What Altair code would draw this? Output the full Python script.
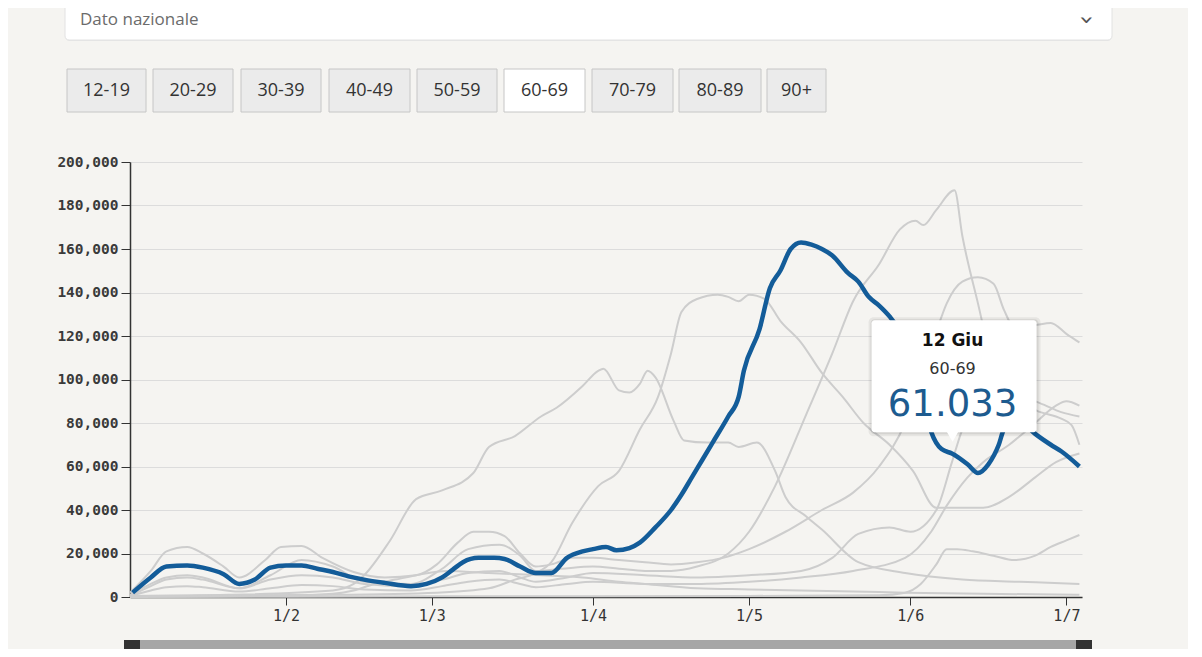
import altair as alt
import pandas as pd

START = pd.Timestamp("2021-01-01")

# Day offsets from 1 Jan 2021, values in thousands of doses per day
d_1219 = [1, 60, 120, 145, 150, 153, 156, 158, 160, 163, 167, 171, 175, 178, 181, 183.5]
v_1219 = [0, 0.3, 0.5, 0.8, 2, 6, 15, 22, 22, 21, 19, 17, 19, 23, 26, 28.5]

d_2029 = [1, 5, 8, 12, 15, 22, 28, 34, 40, 46, 55, 61, 66, 72, 76, 79, 85, 90, 100, 110,
          120, 130, 140, 150, 155, 158, 162, 165, 170, 175, 179, 181, 183.5]
v_2029 = [0.5, 3, 4.5, 5, 4.5, 2.5, 4, 5.5, 5, 3.5, 3, 5, 7, 8, 6, 4.5, 6, 7, 6, 6,
          7, 9, 12, 18, 30, 42, 55, 62, 70, 80, 88, 90, 88]

d_3039 = [1, 5, 8, 12, 15, 22, 28, 34, 40, 46, 55, 61, 66, 72, 76, 79, 85, 90, 100, 110,
          120, 130, 136, 141, 147, 151, 156, 159, 161, 164, 168, 172, 176, 180, 183.5]
v_3039 = [0.5, 5, 8, 9, 8, 4, 8, 10, 9, 6, 5, 8, 11, 12, 9, 7, 9, 11, 10, 9,
          10, 12, 18, 29, 32, 30, 40, 62, 77, 86, 90, 92, 89, 85, 83]

d_4049 = [1, 5, 8, 12, 15, 22, 28, 34, 40, 46, 55, 61, 66, 72, 76, 79, 84, 90, 95, 100,
          105, 110, 116, 120, 125, 131, 136, 140, 145, 149, 152, 153.5, 156, 159.5, 161, 164, 167, 170, 172, 176,
          180, 182, 183.5]
v_4049 = [1, 6, 9, 10, 9, 4, 10, 17, 14, 7, 6, 13, 22, 24, 19, 12, 13, 14, 13, 12,
          12, 14, 20, 30, 51, 84, 112, 136, 153, 169, 173, 171, 178, 187, 166, 135, 105, 90, 89, 85,
          82, 79, 70]

d_5059 = [1, 5, 8, 12, 15, 19, 22, 27, 30, 34, 38, 44, 50, 56, 60, 64, 67, 70, 73, 76,
          79, 82, 86, 90, 95, 100, 105, 110, 115, 120, 127, 134, 140, 145, 150, 153, 156, 158, 161, 164,
          167, 169, 171, 175, 178, 181, 183.5]
v_5059 = [2, 12, 21, 23, 20, 14, 9, 17, 23, 23.5, 18, 11.5, 9, 10, 15, 25, 30, 30, 28, 20,
          14, 15, 18, 18, 17, 16, 15, 16, 18, 22, 30, 40, 48, 60, 80, 100, 122, 135, 145, 147,
          144, 132, 124, 125, 126, 121, 117]

d_6069 = [1.5, 5, 8, 12, 15, 19, 22, 25, 28, 31, 34, 37, 40, 43, 46, 50, 55, 58, 61, 63,
          65, 68, 71, 73, 76, 79, 82, 85, 88, 90, 92.5, 94.5, 97, 99, 102, 105, 107, 109, 111, 113,
          116, 118, 119, 122, 124, 126, 128, 130, 132, 134, 136, 139, 141, 143, 145, 147, 149, 151, 153, 155,
          157, 159, 162, 164, 166, 168, 169, 171, 173, 175, 178, 180, 183.5]
v_6069 = [2, 9, 14, 14.5, 13.5, 10.5, 6, 8, 13.5, 14.5, 14.5, 13, 11.5, 9.5, 8, 6.5, 5, 6, 9, 12.5,
          16, 18, 18, 17.5, 14, 11, 11, 18, 21, 22, 23, 21.5, 22.5, 25, 32, 40, 47, 55, 63, 71,
          83, 92, 104, 123, 142, 150, 160, 163, 162, 160, 157, 149, 145, 138, 134, 129, 122, 110, 95, 76,
          68, 66, 61.033, 57, 61, 70, 77, 80, 79, 75, 70, 67, 60]

d_7079 = [1, 40, 60, 70, 75, 79, 82, 86, 91, 95, 99, 102.5, 105, 107, 110, 114, 116, 118, 120, 123,
          126, 130, 134, 138, 142, 147, 151.5, 156, 160, 165, 170, 175, 179, 183.5]
v_7079 = [0.5, 1, 2, 4, 8, 11, 16, 34, 51, 58, 77, 92, 112, 131, 137, 139, 138, 136, 139, 137,
          127, 117, 103, 92, 80, 70, 58, 41, 41, 41, 46, 55, 62, 66]

d_8089 = [1, 20, 40, 44, 46, 51, 56, 61, 67, 70, 75, 80, 83, 88, 91, 92, 95, 97, 99, 100.5,
          102, 105.5, 107.5, 112, 116, 118, 121.5, 125, 127, 131, 134, 141, 150, 161, 172, 183.5]
v_8089 = [0.5, 1, 3, 6, 10, 26, 45, 49, 57, 69, 74, 83, 87, 97, 104, 105, 95, 94, 98, 104,
          101, 81, 72, 71, 71, 69, 71, 58, 46, 37, 31, 16, 11, 8, 7, 6]

d_90 = [1, 30, 40, 44, 48, 52, 56, 62, 70, 80, 88, 95, 100, 110, 120, 130, 140, 150, 165, 183.5]
v_90 = [0.2, 0.5, 1.5, 3, 6, 8, 10, 12, 11, 10, 9, 7, 6, 4, 3.5, 3, 2.5, 2, 1.5, 1]

groups = ["12-19", "20-29", "30-39", "40-49", "50-59", "60-69", "70-79", "80-89", "90+"]
series = {
    "12-19": (d_1219, v_1219), "20-29": (d_2029, v_2029), "30-39": (d_3039, v_3039),
    "40-49": (d_4049, v_4049), "50-59": (d_5059, v_5059), "60-69": (d_6069, v_6069),
    "70-79": (d_7079, v_7079), "80-89": (d_8089, v_8089), "90+": (d_90, v_90),
}
selected = "60-69"
tip_day = "2021-06-12T00:00:00Z"
tip_value = 61033
tip_title = "12 Giu"
tip_value_text = "61.033"
dropdown_text = "Dato nazionale"
month_ticks = [2, 3, 4, 5, 6, 7]
y_ticks = [0, 20000, 40000, 60000, 80000, 100000, 120000, 140000, 160000, 180000, 200000]


def frame(name, days, vals):
    return pd.DataFrame({
        "date": [(START + pd.Timedelta(days=d)).strftime("%Y-%m-%dT%H:%M:%SZ") for d in days],
        "value": [v * 1000 for v in vals],
        "group": name,
    })


gray_df = pd.concat([frame(g, *series[g]) for g in groups if g != selected], ignore_index=True)
blue_df = frame(selected, *series[selected])

AXIS_FONT = "DejaVu Sans Mono"
x_enc = alt.X(
    "date:T",
    scale=alt.Scale(type="utc",
                    domain=[alt.DateTime(year=2021, month=1, date=2, utc=True),
                            alt.DateTime(year=2021, month=7, date=4, utc=True)]),
    axis=alt.Axis(values=[alt.DateTime(year=2021, month=m, date=1, utc=True) for m in month_ticks],
                  labelExpr="utcFormat(datum.value, '%-d/%-m')",
                  title=None, grid=False, domainColor="#333", domainWidth=1.5,
                  tickColor="#333", tickSize=8, labelFont=AXIS_FONT, labelFontSize=15,
                  labelColor="#333", labelPadding=3),
)
y_enc = alt.Y(
    "value:Q",
    scale=alt.Scale(domain=[0, 200000], nice=False),
    axis=alt.Axis(values=y_ticks, labelExpr="format(datum.value, ',.0f')", title=None,
                  grid=True, gridColor="#dcdcdc", gridWidth=1,
                  domainColor="#333", domainWidth=1.5, tickColor="#333", tickSize=9,
                  labelFont=AXIS_FONT, labelFontSize=14.5, labelFontWeight="bold",
                  labelColor="#3a3a3a", labelPadding=3),
)

gray = alt.Chart(gray_df).mark_line(color="#cdcdcd", strokeWidth=2, interpolate="monotone").encode(
    x=x_enc, y=y_enc, detail="group:N")
blue = alt.Chart(blue_df).mark_line(color="#135c99", strokeWidth=4.5, interpolate="monotone").encode(
    x=x_enc, y=y_enc)

one = pd.DataFrame({"k": [0]})


def box(x, x2, y, y2, **kw):
    return alt.Chart(one).mark_rect(**kw).encode(
        x=alt.value(x), x2=alt.value(x2), y=alt.value(y), y2=alt.value(y2))


def label(text, x, y, **kw):
    return alt.Chart(one).mark_text(text=text, **kw).encode(x=alt.value(x), y=alt.value(y))


deco = []
# dropdown
deco.append(box(-65, 982, -190, -121, fill="#e6e6e6", cornerRadius=5))
deco.append(box(-65, 982, -190, -122, fill="white", stroke="#e2e2e2", strokeWidth=1, cornerRadius=4))
deco.append(label(dropdown_text, -50, -142, align="left", baseline="middle",
                  font="Open Sans", fontSize=17, color="#6b6b6b"))
deco.append(label("›", 956, -142, align="center", baseline="middle", angle=90,
                  font="DejaVu Sans", fontSize=24, color="#555"))

# age buttons
button_x = [(-63, 16), (23, 103), (111, 191), (199, 280), (287, 367),
            (374, 455), (462, 543), (549, 631), (637, 696)]
for g, (bx0, bx1) in zip(groups, button_x):
    fill = "#ffffff" if g == selected else "#ebebeb"
    deco.append(box(bx0, bx1, -93, -50, fill=fill, stroke="#c6c6c6", strokeWidth=1))
    deco.append(label(g, (bx0 + bx1) / 2, -71, align="center", baseline="middle",
                      font="Open Sans", fontSize=18, color="#333"))

# bottom scroll bar
deco.append(box(-6, 962, 478, 500, fill="#333333"))
deco.append(box(10, 946, 478, 500, fill="#a6a6a6"))

# tooltip anchored to the data point
tip_df = pd.DataFrame({"date": [tip_day], "value": [tip_value]})
tb = alt.Chart(tip_df).encode(x=x_enc, y=y_enc)
tip_layers = [
    tb.mark_rect(fill="#000000", opacity=0.06, cornerRadius=5, xOffset=-99, x2Offset=73,
                 yOffset=-147, y2Offset=-28).encode(x2="date:T", y2="value:Q"),
    tb.mark_rect(fill="#000000", opacity=0.08, cornerRadius=4, xOffset=-97, x2Offset=71,
                 yOffset=-145, y2Offset=-30).encode(x2="date:T", y2="value:Q"),
    tb.mark_rect(fill="#ffffff", cornerRadius=3, xOffset=-96, x2Offset=69,
                 yOffset=-144, y2Offset=-32).encode(x2="date:T", y2="value:Q"),
    tb.mark_point(shape="triangle-down", filled=True, fill="#ffffff", opacity=1, size=380,
                  strokeWidth=0, xOffset=-15, yOffset=-31),
    tb.mark_text(text=tip_title, font="DejaVu Sans", fontSize=17, fontWeight="bold",
                 color="#111", dx=-15, dy=-123),
    tb.mark_text(text=selected, font="DejaVu Sans", fontSize=16, color="#333", dx=-15, dy=-95),
    tb.mark_text(text=tip_value_text, font="DejaVu Sans", fontSize=37, color="#1d5b8f",
                 dx=-15, dy=-59),
]

chart = alt.layer(gray, blue, *tip_layers, *deco).properties(
    width=952, height=435,
    autosize=alt.AutoSizeParams(type="none"),
    padding={"left": 122, "top": 154, "right": 106, "bottom": 52},
    background="#f5f4f1",
).configure_view(stroke=None)

chart.save("out.html", embed_options={"renderer": "svg", "actions": False})
